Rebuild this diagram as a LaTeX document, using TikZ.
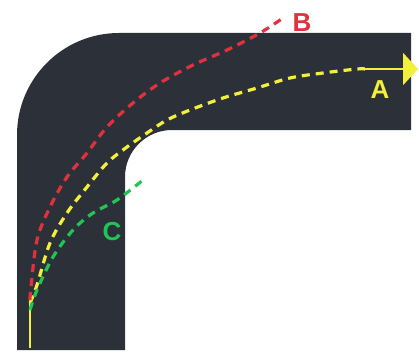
\documentclass[tikz,border=0pt]{standalone}
\usepackage{fontspec}
\setmainfont{Liberation Sans}
\usetikzlibrary{arrows.meta}
\definecolor{pipe}{HTML}{2C3139}
\definecolor{myred}{HTML}{E2313E}
\definecolor{myyellow}{HTML}{F2F03A}
\definecolor{mygreen}{HTML}{22C455}
\tikzset{
  trail/.style={line width=3.2pt, dash pattern=on 8pt off 6pt, smooth, tension=0.55},
  lbl/.style={font=\fontsize{26}{26}\selectfont\bfseries, inner sep=0pt}
}
\begin{document}
\begin{tikzpicture}[x=1pt,y=1pt]
\useasboundingbox (0,0) rectangle (419,354);
% pipe bend
\fill[pipe] (17,4) -- (17,219) arc (180:90:102) -- (411,321) -- (411,224)
  -- (172,224) arc (90:180:47) -- (125,4) -- cycle;
% yellow (A)
\draw[myyellow, line width=2.2pt] (30,6) -- (30,51);
\draw[myyellow, trail] plot coordinates {(30,51) (37,69) (50,111) (67,141) (87,167) (107,191) (127,207) (147,221) (167,234) (190,244) (223,256) (257,266) (290,276) (323,281) (357,285) (365,285)};
\draw[myyellow, line width=2.2pt, -{Triangle[length=15pt,width=32pt]}] (365,285) -- (418,285);
% red (B)
\draw[myred, trail] plot coordinates {(30,54) (31,67) (37,114) (50,147) (67,177) (87,201) (107,227) (133,251) (160,271) (193,289) (227,304) (260,321) (283,336)};
% green (C)
\draw[mygreen, trail] plot coordinates {(30,44) (37,64) (53,97) (73,124) (93,141) (117,154) (143,174)};
% labels
\node[lbl, text=myred] (B) at (302,331) {B};
\node[lbl, text=myyellow] (A) at (380,264) {A};
\node[lbl, text=mygreen] (C) at (112,122) {C};
\end{tikzpicture}
\end{document}
